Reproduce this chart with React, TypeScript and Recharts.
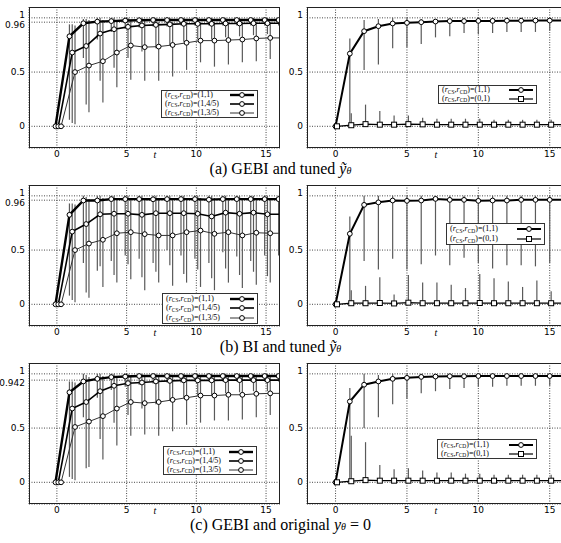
import React from "react";
import { LineChart, Line, XAxis, YAxis, CartesianGrid, ErrorBar } from "recharts";

// time steps (t = 16 lies on the clipped right edge)
const T = [0, 1, 2, 3, 4, 5, 6, 7, 8, 9, 10, 11, 12, 13, 14, 15, 16];
const X_TICKS = [0, 5, 10, 15];
const Y_TICKS_AB = [0, 0.5, 0.96, 1];
const Y_TICKS_C = [0, 0.5, 0.942, 1];
const Y_TICKS_R = [0, 0.5, 1];
const LEFT_LABELS = ["(1,1)", "(1,4/5)", "(1,3/5)"];
const RIGHT_LABELS = ["(1,1)", "(0,1)"];

// (a) GEBI and tuned, left
const A1_Y = [0, 0.83, 0.95, 0.965, 0.97, 0.975, 0.978, 0.98, 0.98, 0.98, 0.98, 0.98, 0.98, 0.98, 0.98, 0.98, 0.98];
const A1_LO = [0, 0.06, 0.63, 0.8, 0.87, 0.9, 0.91, 0.92, 0.92, 0.93, 0.93, 0.93, 0.93, 0.93, 0.93, 0.93, 0.93];
const A1_HI = [0, 0.94, 0.99, 1, 1, 1, 1, 1, 1, 1, 1, 1, 1, 1, 1, 1, 1];
const A2_Y = [0, 0.68, 0.74, 0.855, 0.895, 0.917, 0.93, 0.935, 0.94, 0.945, 0.945, 0.945, 0.948, 0.948, 0.95, 0.95, 0.95];
const A2_LO = [0, 0.03, 0.2, 0.42, 0.54, 0.63, 0.69, 0.72, 0.75, 0.78, 0.8, 0.8, 0.82, 0.83, 0.84, 0.85, 0.85];
const A2_HI = [0, 0.94, 0.99, 1, 1, 1, 1, 1, 1, 1, 1, 1, 1, 1, 1, 1, 1];
const A3_Y = [0, 0.5, 0.56, 0.6, 0.68, 0.745, 0.73, 0.735, 0.75, 0.77, 0.79, 0.79, 0.795, 0.8, 0.81, 0.815, 0.815];
const A3_LO = [0, 0.02, 0.13, 0.22, 0.36, 0.43, 0.42, 0.42, 0.46, 0.52, 0.59, 0.55, 0.57, 0.59, 0.6, 0.62, 0.62];
const A3_HI = [0, 0.93, 0.98, 0.98, 0.98, 0.97, 0.97, 0.96, 0.96, 0.96, 0.96, 0.96, 0.96, 0.96, 0.96, 0.96, 0.96];

// (b) BI and tuned, left
const B1_Y = [0, 0.825, 0.957, 0.957, 0.97, 0.97, 0.97, 0.968, 0.97, 0.97, 0.97, 0.965, 0.97, 0.97, 0.97, 0.97, 0.97];
const B1_LO = [0, 0.08, 0.38, 0.31, 0.4, 0.45, 0.42, 0.38, 0.5, 0.45, 0.42, 0.38, 0.48, 0.44, 0.4, 0.45, 0.45];
const B1_HI = [0, 0.93, 1, 1, 1, 1, 1, 1, 1, 1, 1, 1, 1, 1, 1, 1, 1];
const B2_Y = [0, 0.67, 0.74, 0.83, 0.835, 0.835, 0.825, 0.84, 0.84, 0.84, 0.835, 0.81, 0.845, 0.835, 0.845, 0.83, 0.83];
const B2_LO = [0, 0.04, 0.11, 0.35, 0.27, 0.37, 0.25, 0.3, 0.36, 0.28, 0.32, 0.24, 0.33, 0.27, 0.3, 0.26, 0.3];
const B2_HI = [0, 0.93, 0.99, 1, 1, 1, 1, 1, 1, 1, 1, 1, 1, 1, 1, 1, 1];
const B3_Y = [0, 0.5, 0.56, 0.595, 0.655, 0.665, 0.647, 0.635, 0.635, 0.665, 0.68, 0.65, 0.665, 0.635, 0.66, 0.655, 0.655];
const B3_LO = [0, 0.02, 0.06, 0.16, 0.2, 0.23, 0.13, 0.2, 0.17, 0.2, 0.16, 0.13, 0.2, 0.15, 0.18, 0.2, 0.2];
const B3_HI = [0, 0.92, 0.97, 0.98, 0.98, 0.98, 0.98, 0.98, 0.98, 0.98, 0.98, 0.98, 0.98, 0.98, 0.98, 0.98, 0.98];

// (c) GEBI and original, left
const C1_Y = [0, 0.83, 0.93, 0.954, 0.97, 0.975, 0.98, 0.98, 0.98, 0.98, 0.98, 0.98, 0.98, 0.98, 0.98, 0.98, 0.98];
const C1_LO = [0, 0.05, 0.6, 0.78, 0.85, 0.88, 0.9, 0.91, 0.92, 0.92, 0.93, 0.93, 0.93, 0.93, 0.93, 0.93, 0.93];
const C1_HI = [0, 0.93, 1, 1, 1, 1, 1, 1, 1, 1, 1, 1, 1, 1, 1, 1, 1];
const C2_Y = [0, 0.68, 0.74, 0.84, 0.89, 0.914, 0.92, 0.93, 0.935, 0.94, 0.94, 0.94, 0.942, 0.942, 0.942, 0.942, 0.942];
const C2_LO = [0, 0.03, 0.13, 0.4, 0.55, 0.62, 0.68, 0.72, 0.75, 0.78, 0.8, 0.8, 0.82, 0.83, 0.84, 0.84, 0.85];
const C2_HI = [0, 0.93, 0.99, 1, 1, 1, 1, 1, 1, 1, 1, 1, 1, 1, 1, 1, 1];
const C3_Y = [0, 0.51, 0.56, 0.61, 0.68, 0.74, 0.73, 0.74, 0.76, 0.78, 0.8, 0.8, 0.807, 0.807, 0.816, 0.82, 0.82];
const C3_LO = [0, 0.02, 0.14, 0.21, 0.34, 0.43, 0.44, 0.43, 0.47, 0.53, 0.55, 0.57, 0.57, 0.58, 0.6, 0.62, 0.62];
const C3_HI = [0, 0.92, 0.97, 0.98, 0.98, 0.97, 0.97, 0.97, 0.97, 0.97, 0.97, 0.97, 0.97, 0.97, 0.97, 0.97, 0.97];

// (a) right
const D1_Y = [0, 0.67, 0.877, 0.923, 0.948, 0.954, 0.96, 0.966, 0.97, 0.97, 0.972, 0.972, 0.974, 0.974, 0.975, 0.975, 0.975];
const D1_LO = [0, 0.01, 0.52, 0.57, 0.72, 0.73, 0.76, 0.82, 0.83, 0.86, 0.85, 0.86, 0.87, 0.87, 0.87, 0.88, 0.88];
const D1_HI = [0, 0.81, 0.98, 0.99, 1, 1, 0.99, 0.99, 0.99, 1, 1, 1, 1, 1, 1, 1, 1];
const D2_Y = [0, 0.01, 0.02, 0.015, 0.015, 0.02, 0.018, 0.015, 0.015, 0.015, 0.015, 0.015, 0.015, 0.015, 0.015, 0.015, 0.015];
const D2_LO = [0, 0, 0, 0, 0, 0, 0, 0, 0, 0, 0, 0, 0, 0, 0, 0, 0];
const D2_HI = [0, 0.12, 0.2, 0.14, 0.1, 0.1, 0.08, 0.07, 0.07, 0.07, 0.07, 0.06, 0.06, 0.06, 0.06, 0.06, 0.06];

// (b) right
const E1_Y = [0, 0.65, 0.917, 0.94, 0.957, 0.954, 0.957, 0.972, 0.963, 0.963, 0.954, 0.957, 0.957, 0.963, 0.963, 0.963, 0.963];
const E1_LO = [0, 0.01, 0.4, 0.32, 0.42, 0.32, 0.37, 0.45, 0.36, 0.43, 0.38, 0.33, 0.36, 0.36, 0.35, 0.38, 0.38];
const E1_HI = [0, 0.81, 1, 1, 1, 1, 1, 1, 1, 1, 1, 1, 1, 1, 1, 1, 1];
const E2_Y = [0, 0.01, 0.01, 0.012, 0.008, 0.015, 0.01, 0.01, 0.01, 0.01, 0.012, 0.01, 0.01, 0.01, 0.01, 0.01, 0.01];
const E2_LO = [0, 0, 0, 0, 0, 0, 0, 0, 0, 0, 0, 0, 0, 0, 0, 0, 0];
const E2_HI = [0, 0.13, 0.17, 0.25, 0.09, 0.27, 0.2, 0.2, 0.18, 0.15, 0.28, 0.24, 0.21, 0.16, 0.22, 0.12, 0.12];

// (c) right
const F1_Y = [0, 0.745, 0.9, 0.93, 0.954, 0.963, 0.972, 0.975, 0.978, 0.978, 0.98, 0.98, 0.98, 0.98, 0.98, 0.98, 0.98];
const F1_LO = [0, 0.03, 0.5, 0.6, 0.72, 0.77, 0.82, 0.84, 0.86, 0.87, 0.88, 0.88, 0.89, 0.89, 0.89, 0.89, 0.89];
const F1_HI = [0, 0.87, 1, 0.99, 1, 1, 1, 1, 1, 1, 1, 1, 1, 1, 1, 1, 1];
const F2_Y = [0, 0.01, 0.02, 0.015, 0.015, 0.015, 0.015, 0.015, 0.015, 0.015, 0.015, 0.015, 0.015, 0.015, 0.015, 0.015, 0.015];
const F2_LO = [0, 0, 0, 0, 0, 0, 0, 0, 0, 0, 0, 0, 0, 0, 0, 0, 0];
const F2_HI = [0, 0.43, 0.37, 0.16, 0.12, 0.13, 0.11, 0.09, 0.09, 0.08, 0.08, 0.07, 0.07, 0.07, 0.07, 0.07, 0.07];

const PLOT_H = 141;
const AXIS_W = 30;
const AXIS_H = 20;
const ROW_TOPS = [7, 185, 363];
const LEFT_X = 29;
const LEFT_W = 251;
const RIGHT_X = 307;
const RIGHT_W = 257;

const SANS = "'DejaVu Sans', sans-serif";
const SERIF = "'Liberation Serif', 'Times New Roman', serif";

type Pt = { x: number; y: number; err: [number, number] };

function mk(ys: number[], lo: number[], hi: number[], dx: number): Pt[] {
  return T.map((t, i) => ({ x: t + dx, y: ys[i], err: [ys[i] - lo[i], hi[i] - ys[i]] }));
}

const circleDot = (r: number) => (p: any) => {
  if (p.payload.x > 16) return <g key={p.index} />;
  return <circle key={p.index} cx={p.cx} cy={p.cy} r={r} fill="#fff" stroke="#000" strokeWidth={1} />;
};
const squareDot = (s: number) => (p: any) => {
  if (p.payload.x > 16) return <g key={p.index} />;
  return <rect key={p.index} x={p.cx - s / 2} y={p.cy - s / 2} width={s} height={s} fill="#fff" stroke="#000" strokeWidth={1} />;
};

type S = { name: string; data: Pt[]; w: number; color: string; marker: "circle" | "square" };

const LEFT_STYLE = [
  { w: 2.4, color: "#000" },
  { w: 1.6, color: "#000" },
  { w: 1.0, color: "#333" },
];

function leftSeries(rows: [number[], number[], number[]][]): S[] {
  const dx = [-0.1, 0.1, 0.3];
  return rows.map((r, i) => ({
    name: LEFT_LABELS[i],
    data: mk(r[0], r[1], r[2], dx[i]),
    w: LEFT_STYLE[i].w,
    color: LEFT_STYLE[i].color,
    marker: "circle",
  }));
}

function rightSeries(a: [number[], number[], number[]], b: [number[], number[], number[]]): S[] {
  return [
    { name: RIGHT_LABELS[0], data: mk(a[0], a[1], a[2], 0), w: 2.0, color: "#000", marker: "circle" },
    { name: RIGHT_LABELS[1], data: mk(b[0], b[1], b[2], 0.1), w: 1.2, color: "#000", marker: "square" },
  ];
}

const YTick = (props: any) => {
  const v = props.payload.value;
  const dy = v === 1 ? -3 : v > 0.9 ? 3 : 0;
  return (
    <text x={props.x} y={props.y + dy} dy="0.35em" textAnchor="end" fontSize={9} fontFamily={SANS} fill="#000">
      {v}
    </text>
  );
};

function Panel({ plotLeft, plotWidth, top, series, yTicks }: { plotLeft: number; plotWidth: number; top: number; series: S[]; yTicks: number[] }) {
  return (
    <>
      <div style={{ position: "absolute", left: plotLeft - AXIS_W, top }}>
        <LineChart width={AXIS_W + plotWidth} height={PLOT_H + AXIS_H} margin={{ top: 0, right: 0, bottom: 0, left: 0 }}>
          <CartesianGrid stroke="#333" strokeDasharray="1 1.5" strokeWidth={0.9} />
          <XAxis
            type="number"
            dataKey="x"
            domain={[-2, 16]}
            ticks={X_TICKS}
            allowDataOverflow
            axisLine={false}
            tickLine={false}
            tickSize={1}
            tickMargin={2}
            interval={0}
            height={AXIS_H}
            tick={{ fontSize: 9, fill: "#000", fontFamily: SANS }}
          />
          <YAxis
            type="number"
            domain={[-0.2, 1.1]}
            ticks={yTicks}
            allowDataOverflow
            axisLine={false}
            tickLine={false}
            tickSize={2}
            tickMargin={2}
            width={AXIS_W}
            interval={0}
            tick={(p: any) => <YTick {...p} />}
          />
          {series.map((s) => (
            <Line key={s.name + "-err"} data={s.data} dataKey="y" stroke="none" dot={false} isAnimationActive={false} legendType="none">
              <ErrorBar dataKey="err" width={0} stroke="#5a5a5a" strokeWidth={1.2} direction="y" />
            </Line>
          ))}
          {series.map((s) => (
            <Line
              key={s.name}
              data={s.data}
              dataKey="y"
              stroke={s.color}
              strokeWidth={s.w}
              dot={s.marker === "circle" ? circleDot(2.4) : squareDot(5)}
              isAnimationActive={false}
              legendType="none"
            />
          ))}
        </LineChart>
      </div>
      <div
        style={{
          position: "absolute",
          left: plotLeft,
          top,
          width: plotWidth,
          height: PLOT_H,
          border: "1px solid #222",
          boxSizing: "border-box",
          pointerEvents: "none",
        }}
      />
      <div
        style={{
          position: "absolute",
          left: plotLeft + plotWidth / 2 - 1,
          top: top + PLOT_H + 2,
          fontFamily: SERIF,
          fontStyle: "italic",
          fontSize: 10,
          lineHeight: "10px",
        }}
      >
        t
      </div>
    </>
  );
}

const Sub = ({ children }: { children: React.ReactNode }) => (
  <span style={{ fontSize: 5.5, position: "relative", top: 1.5 }}>{children}</span>
);

function Legend({ left, top, width, height, series }: { left: number; top: number; width: number; height: number; series: S[] }) {
  return (
    <div
      style={{
        position: "absolute",
        left,
        top,
        width,
        height,
        border: "1px solid #333",
        boxSizing: "border-box",
        background: "#fff",
        display: "flex",
        flexDirection: "column",
        justifyContent: "space-around",
        padding: "0 3px 0 3px",
        fontFamily: SERIF,
        fontSize: 8,
        lineHeight: "8px",
        color: "#000",
      }}
    >
      {series.map((s) => (
        <div key={s.name} style={{ display: "flex", alignItems: "center", justifyContent: "space-between" }}>
          <span style={{ whiteSpace: "nowrap" }}>
            (<i>r</i>
            <Sub>CS</Sub>,<i>r</i>
            <Sub>CD</Sub>)={s.name}
          </span>
          <svg width={24} height={8}>
            <line x1={0} y1={4} x2={24} y2={4} stroke={s.color} strokeWidth={s.w} />
            {s.marker === "circle" ? (
              <circle cx={12} cy={4} r={2.4} fill="#fff" stroke="#000" strokeWidth={1} />
            ) : (
              <rect x={9.5} y={1.5} width={5} height={5} fill="#fff" stroke="#000" strokeWidth={1} />
            )}
          </svg>
        </div>
      ))}
    </div>
  );
}

const capStyle: React.CSSProperties = {
  position: "absolute",
  left: 0,
  width: 561,
  textAlign: "center",
  fontFamily: SERIF,
  fontSize: 16,
  lineHeight: "16px",
};

export default function App() {
  const sa = leftSeries([[A1_Y, A1_LO, A1_HI], [A2_Y, A2_LO, A2_HI], [A3_Y, A3_LO, A3_HI]]);
  const sb = leftSeries([[B1_Y, B1_LO, B1_HI], [B2_Y, B2_LO, B2_HI], [B3_Y, B3_LO, B3_HI]]);
  const sc = leftSeries([[C1_Y, C1_LO, C1_HI], [C2_Y, C2_LO, C2_HI], [C3_Y, C3_LO, C3_HI]]);
  const ra = rightSeries([D1_Y, D1_LO, D1_HI], [D2_Y, D2_LO, D2_HI]);
  const rb = rightSeries([E1_Y, E1_LO, E1_HI], [E2_Y, E2_LO, E2_HI]);
  const rc = rightSeries([F1_Y, F1_LO, F1_HI], [F2_Y, F2_LO, F2_HI]);

  return (
    <div style={{ position: "absolute", left: 0, top: 0, width: 561, height: 543, overflow: "hidden", background: "#fff" }}>
      <Panel plotLeft={LEFT_X} plotWidth={LEFT_W} top={ROW_TOPS[0]} series={sa} yTicks={Y_TICKS_AB} />
      <Panel plotLeft={RIGHT_X} plotWidth={RIGHT_W} top={ROW_TOPS[0]} series={ra} yTicks={Y_TICKS_R} />
      <Panel plotLeft={LEFT_X} plotWidth={LEFT_W} top={ROW_TOPS[1]} series={sb} yTicks={Y_TICKS_AB} />
      <Panel plotLeft={RIGHT_X} plotWidth={RIGHT_W} top={ROW_TOPS[1]} series={rb} yTicks={Y_TICKS_R} />
      <Panel plotLeft={LEFT_X} plotWidth={LEFT_W} top={ROW_TOPS[2]} series={sc} yTicks={Y_TICKS_C} />
      <Panel plotLeft={RIGHT_X} plotWidth={RIGHT_W} top={ROW_TOPS[2]} series={rc} yTicks={Y_TICKS_R} />

      <Legend left={161} top={90} width={97} height={28} series={sa} />
      <Legend left={438} top={85} width={99} height={19} series={ra} />
      <Legend left={162} top={293} width={96} height={31} series={sb} />
      <Legend left={446} top={223} width={99} height={22} series={rb} />
      <Legend left={163} top={446} width={94} height={29} series={sc} />
      <Legend left={437} top={439} width={100} height={20} series={rc} />

      <div style={{ ...capStyle, top: 161 }}>
        (a) GEBI and tuned <i>ỹ</i>
        <i style={{ fontSize: 10 }}>θ</i>
      </div>
      <div style={{ ...capStyle, top: 339 }}>
        (b) BI and tuned <i>ỹ</i>
        <i style={{ fontSize: 10 }}>θ</i>
      </div>
      <div style={{ ...capStyle, top: 517 }}>
        (c) GEBI and original <i>y</i>
        <i style={{ fontSize: 10 }}>θ</i> = 0
      </div>
    </div>
  );
}
